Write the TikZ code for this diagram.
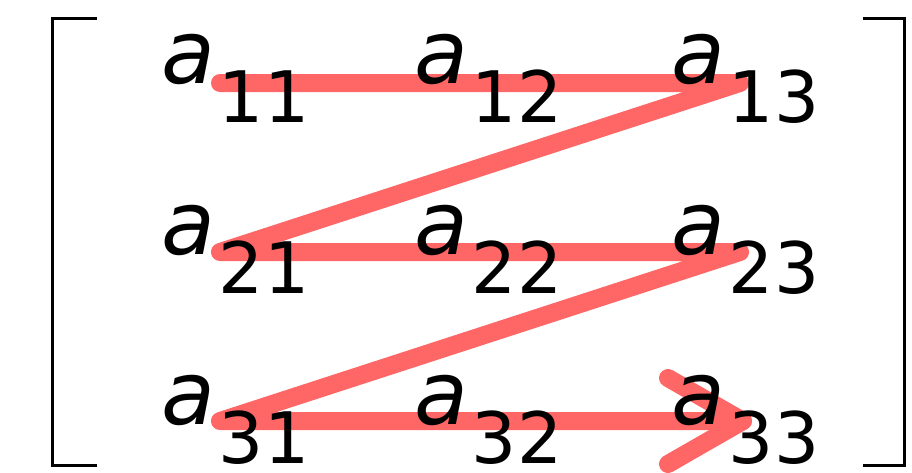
\documentclass[tikz,border=0pt]{standalone}
\usepackage{fontspec}
\setmainfont{DejaVu Sans}
\definecolor{zig}{RGB}{255,102,102}
\begin{document}
\begin{tikzpicture}[x=1pt,y=-1pt,
  entry/.style={anchor=base west,inner sep=0pt,outer sep=0pt},
  zigline/.style={draw=zig,line width=18pt,line cap=round,line join=round},
  bracket/.style={draw=black,line width=3pt}]
\useasboundingbox (0,0) rectangle (912,472);
\newcommand{\ent}[1]{{\fontsize{88}{88}\selectfont\itshape a}\hspace{4pt}\raisebox{-39pt}{\fontsize{71}{71}\selectfont #1}}
% red path coordinates
\coordinate (s11) at (220,83);
\coordinate (e13) at (740,83);
\coordinate (s21) at (220,252);
\coordinate (e23) at (740,252);
\coordinate (s31) at (220,421);
\coordinate (e33) at (743,421);
\coordinate (b1) at (668,378);
\coordinate (b2) at (668,464);
\draw[zigline] (s11) -- (e13) -- (s21) -- (e23) -- (s31) -- (e33);
\draw[zigline] (b1) -- (e33) -- (b2);
% entries
\foreach \r/\y in {1/83,2/254,3/424}{
  \foreach \c/\x in {1/161,2/414,3/671}{
    \node[entry] (a\r\c) at (\x,\y) {\ent{\r\c}};
  }
}
% brackets
\draw[bracket] (97,18) -- (52,18) -- (52,465) -- (97,465);
\draw[bracket] (863,18) -- (904,18) -- (904,465) -- (863,465);
\end{tikzpicture}
\end{document}
